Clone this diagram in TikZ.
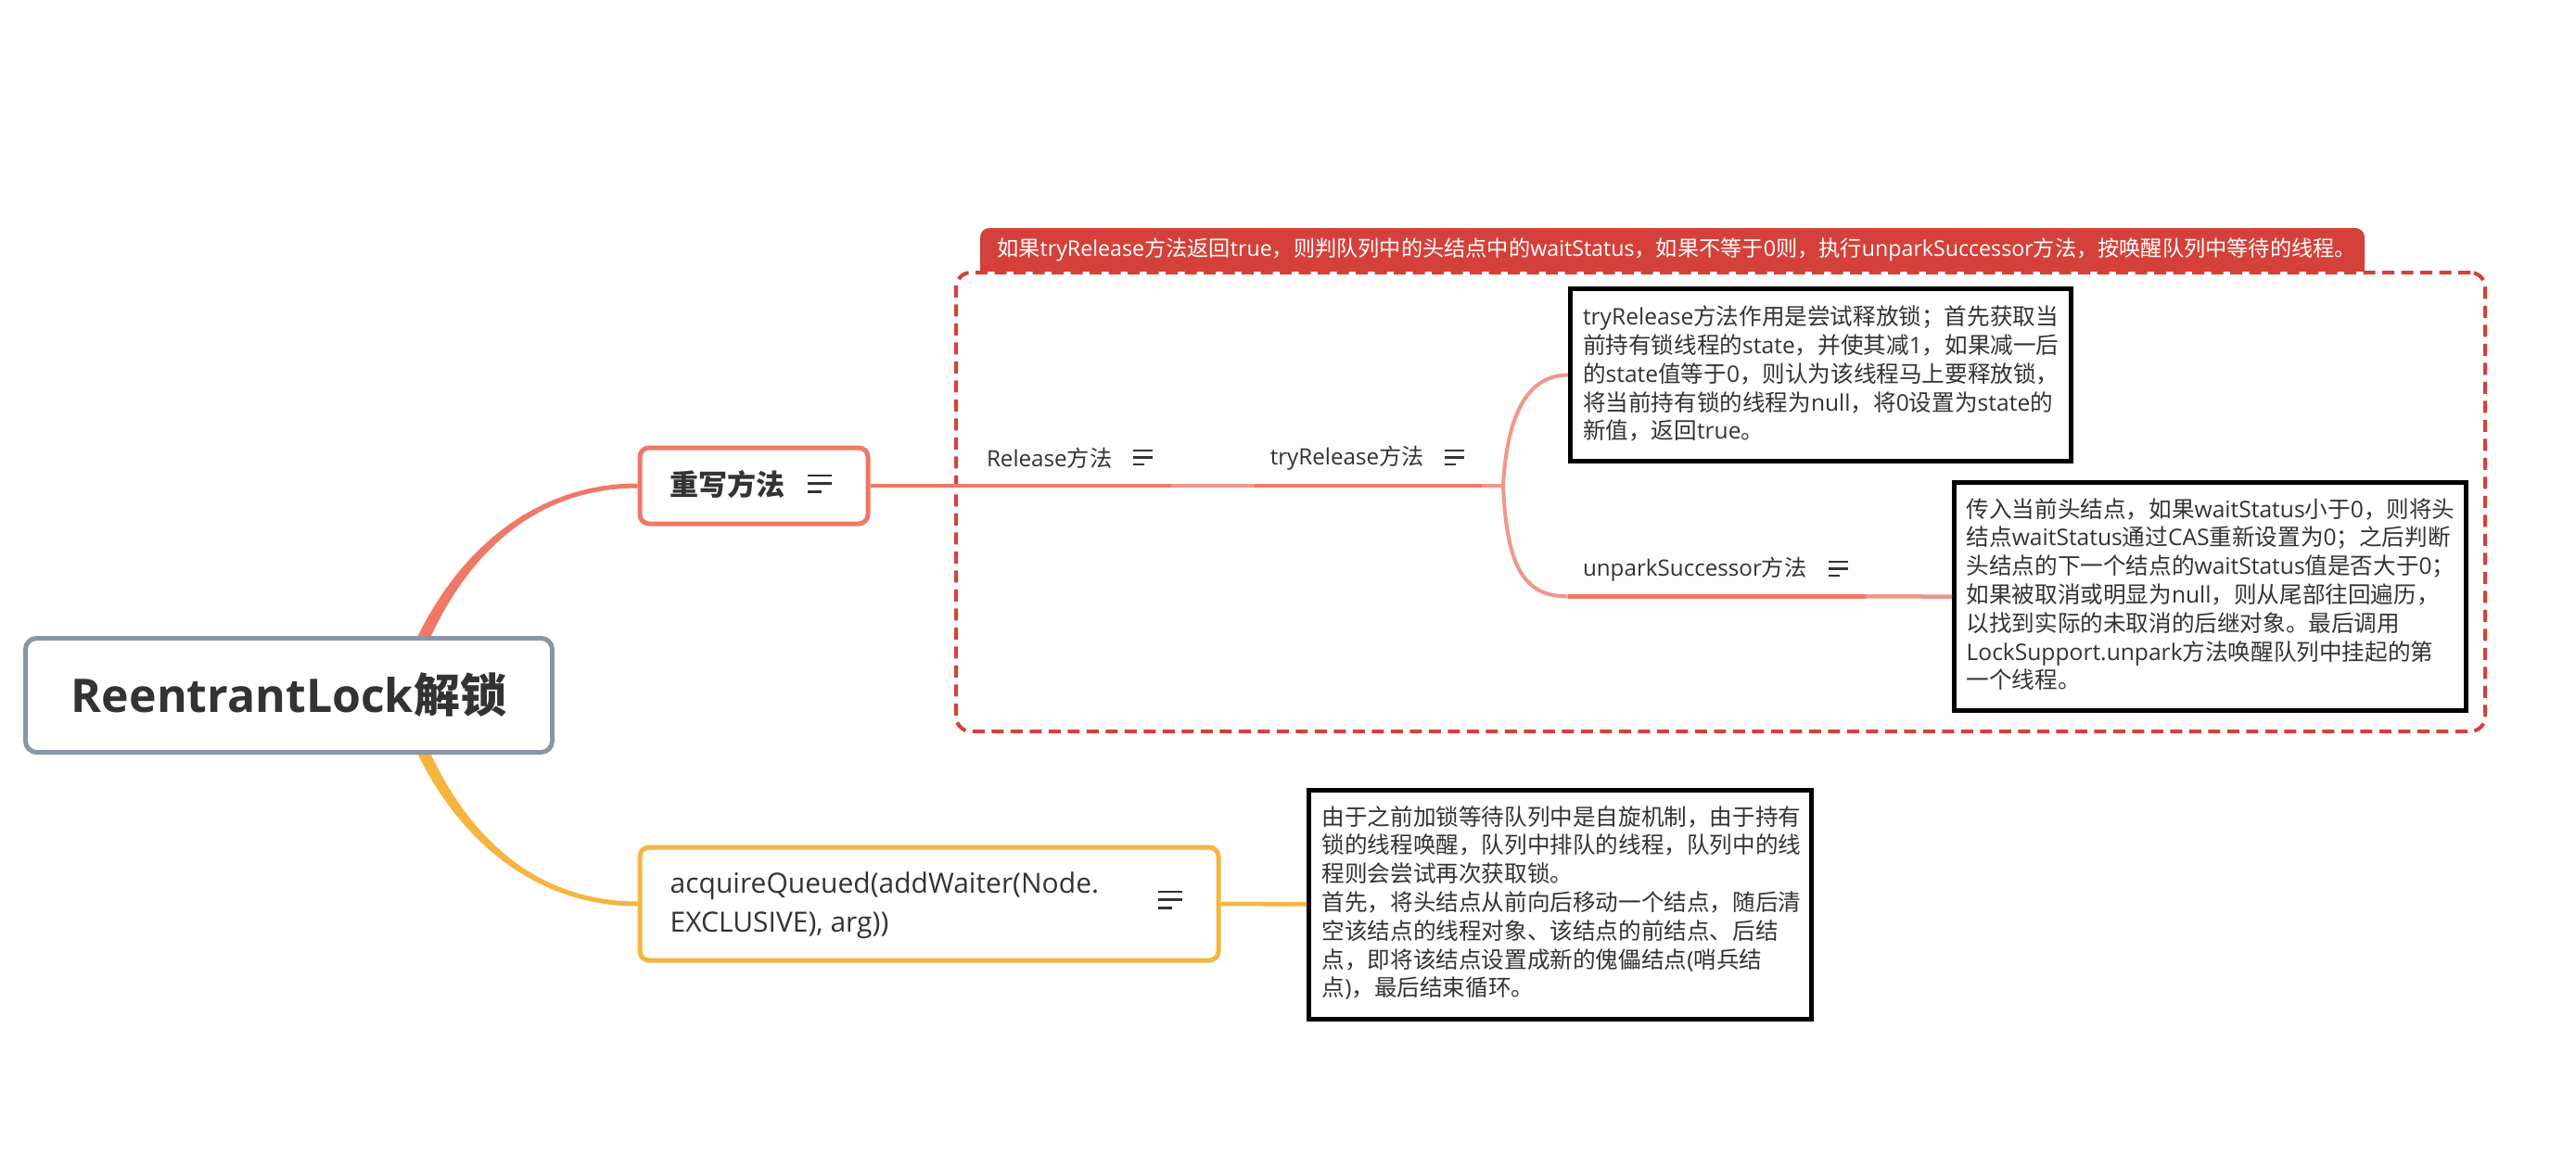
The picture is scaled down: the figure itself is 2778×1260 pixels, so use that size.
\documentclass[tikz,border=0pt]{standalone}
\usepackage{fontspec}
\setmainfont{Open Sans}
\newfontfamily\cjkfont{Noto Sans CJK SC}
\newfontfamily\latfont{Open Sans}
\XeTeXinterchartokenstate=1
\newXeTeXintercharclass\cjkcls
\newcount\mycnt
\mycnt="3000 \loop\XeTeXcharclass\mycnt=\cjkcls\advance\mycnt by 1 \ifnum\mycnt<"3040 \repeat
\mycnt="4E00 \loop\XeTeXcharclass\mycnt=\cjkcls\advance\mycnt by 1 \ifnum\mycnt<"A000 \repeat
\mycnt="FF00 \loop\XeTeXcharclass\mycnt=\cjkcls\advance\mycnt by 1 \ifnum\mycnt<"FFF0 \repeat
\XeTeXinterchartoks 0 \cjkcls = {\cjkfont}
\XeTeXinterchartoks 4095 \cjkcls = {\cjkfont}
\XeTeXinterchartoks \cjkcls 0 = {\latfont}
\XeTeXinterchartoks \cjkcls 4095 = {\latfont}
\usetikzlibrary{calc}
\pgfdeclarelayer{back}
\pgfsetlayers{back,main}
\definecolor{redc}{HTML}{D5413A}
\definecolor{salmon}{HTML}{EF7866}
\definecolor{salmonlt}{HTML}{F1968A}
\definecolor{orangec}{HTML}{F5B53F}
\definecolor{rootgray}{HTML}{8A95A8}
\definecolor{textc}{HTML}{333333}
\definecolor{bndfill}{HTML}{FDFDFD}
\tikzset{
  txt/.style={text=textc, inner sep=0pt, anchor=west, align=left},
  notefont/.style={font=\fontsize{24.6}{30.8}\selectfont},
  lblfont/.style={font=\fontsize{24.2}{30}\selectfont},
  notebox/.style={draw=black, line width=5pt, fill=white, inner sep=0pt},
  topicbox/.style={line width=5pt, fill=white, rounded corners=10pt, inner sep=0pt},
  conn/.style={line width=4.5pt},
  iconL/.pic={\draw[textc, line width=2.6pt] (0,0) -- (26,0) (0,8.7) -- (26,8.7) (0,17.4) -- (15,17.4);},
  iconS/.pic={\draw[textc, line width=2.4pt] (0,0) -- (21,0) (0,7.5) -- (21,7.5) (0,15) -- (12,15);}
}
\begin{document}
\begin{tikzpicture}[x=1pt, y=-1pt]
\useasboundingbox (0,0) rectangle (2778,1260);
\begin{pgfonlayer}{back}
\fill[white] (0,0) rectangle (2778,1260);
\end{pgfonlayer}

% boundary and its label
\node[draw=redc, fill=bndfill, line width=4pt, dash pattern=on 13pt off 7.5pt, rounded corners=16pt,
      minimum width=1649, minimum height=495, inner sep=0pt] (bnd) at (1855.5,541.5) {};
\node[fill=redc, rounded corners=10pt, minimum width=1493, minimum height=47, inner sep=0pt] (bar) at (1803.5,269.5) {};
\fill[redc] (bar.west) rectangle (bar.south east);
\node[inner sep=0pt, anchor=west, text=white, font=\fontsize{23.2}{26}\selectfont] (bart) at (1075,269.5)
  {如果tryRelease方法返回true，则判队列中的头结点中的waitStatus，如果不等于0则，执行unparkSuccessor方法，按唤醒队列中等待的线程。};

% root and main topics
\node[draw=rootgray, line width=5pt, fill=white, rounded corners=12pt, minimum width=568, minimum height=123,
      inner sep=0pt, text=textc, font=\bfseries\fontsize{50}{60}\selectfont] (root) at (311.5,750) {ReentrantLock解锁};
\node[topicbox, draw=salmon, minimum width=246, minimum height=82] (zhong) at (813,524) {};
\node[txt, font=\bfseries\fontsize{31}{36}\selectfont] (zhongt) at (722.5,522.5) {重写方法};
\pic at (870.5,513) {iconL};
\node[topicbox, draw=orangec, minimum width=624, minimum height=122] (acq) at (1002,975) {};
\node[txt, font=\fontsize{30}{42}\selectfont] (acqt) at (722.5,976.5) {acquireQueued(addWaiter(Node.\\EXCLUSIVE), arg))};
\pic at (1249,962) {iconL};

% tapered branches from root (behind the root box)
\begin{pgfonlayer}{back}
\fill[salmon] ($(root.center)+(111,10)$) .. controls (463,618) and (560,521.5) .. ($(zhong.west)+(0,-2.5)$)
  -- ($(zhong.west)+(0,2.5)$) .. controls (560,526.5) and (477,622) .. ($(root.center)+(126,10)$) -- cycle;
\fill[orangec] ($(root.center)+(111,-10)$) .. controls (463,882) and (560,977.5) .. ($(acq.west)+(0,2.5)$)
  -- ($(acq.west)+(0,-2.5)$) .. controls (560,972.5) and (477,878) .. ($(root.center)+(126,-10)$) -- cycle;
\end{pgfonlayer}

% second-level labels
\node[txt, lblfont] (rel) at (1063.8,494.5) {Release方法};
\pic at (1222,486) {iconS};
\node[txt, lblfont] (try) at (1369.6,494.5) {tryRelease方法};
\pic at (1558,486) {iconS};
\node[txt, lblfont] (unp) at (1706.8,614) {unparkSuccessor方法};
\pic at (1972,606) {iconS};
\coordinate (relL) at (1047,524);
\coordinate (relR) at (1263,524);
\coordinate (tryL) at (1353,524);
\coordinate (tryR) at (1598,524);
\coordinate (brp) at (1621,524);
\coordinate (unpL) at (1690.7,643.3);
\coordinate (unpR) at (2012,643.3);

% notes
\node[notebox, minimum width=540, minimum height=186] (n1) at (1963.4,404.6) {};
\node[txt, notefont] (n1t) at (1706.8,403.3) {tryRelease方法作用是尝试释放锁；首先获取当\\前持有锁线程的state，并使其减1，如果减一后\\的state值等于0，则认为该线程马上要释放锁，\\将当前持有锁的线程为null，将0设置为state的\\新值，返回true。};
\node[notebox, minimum width=552, minimum height=246] (n2) at (2383.5,643.6) {};
\node[txt, notefont] (n2t) at (2120.4,641) {传入当前头结点，如果waitStatus小于0，则将头\\结点waitStatus通过CAS重新设置为0；之后判断\\头结点的下一个结点的waitStatus值是否大于0；\\如果被取消或明显为null，则从尾部往回遍历，\\以找到实际的未取消的后继对象。最后调用\\LockSupport.unpark方法唤醒队列中挂起的第\\一个线程。};
\node[notebox, minimum width=542, minimum height=247] (n3) at (1682.5,975.5) {};
\node[txt, notefont] (n3t) at (1425.5,974) {由于之前加锁等待队列中是自旋机制，由于持有\\锁的线程唤醒，队列中排队的线程，队列中的线\\程则会尝试再次获取锁。\\首先，将头结点从前向后移动一个结点，随后清\\空该结点的线程对象、该结点的前结点、后结\\点，即将该结点设置成新的傀儡结点(哨兵结\\点)，最后结束循环。};

% connectors
\draw[salmon, conn] (zhong.east) -- (relL);
\draw[salmon, conn] (relL) -- (relR);
\draw[salmonlt, conn] (relR) -- (tryL);
\draw[salmon, conn] (tryL) -- (tryR);
\draw[salmonlt, conn] (tryR) -- (brp);
\draw[salmonlt, line width=4pt] (brp) .. controls +(4,-74) and +(-45,0) .. (n1.west);
\draw[salmonlt, line width=4pt] (brp) .. controls +(4,92) and +(-45,0) .. (unpL);
\draw[salmon, conn] (unpL) -- (unpR);
\draw[salmonlt, conn] (unpR) -- (n2.west);
\draw[orangec, conn] (acq.east) -- (n3.west);
\end{tikzpicture}
\end{document}
